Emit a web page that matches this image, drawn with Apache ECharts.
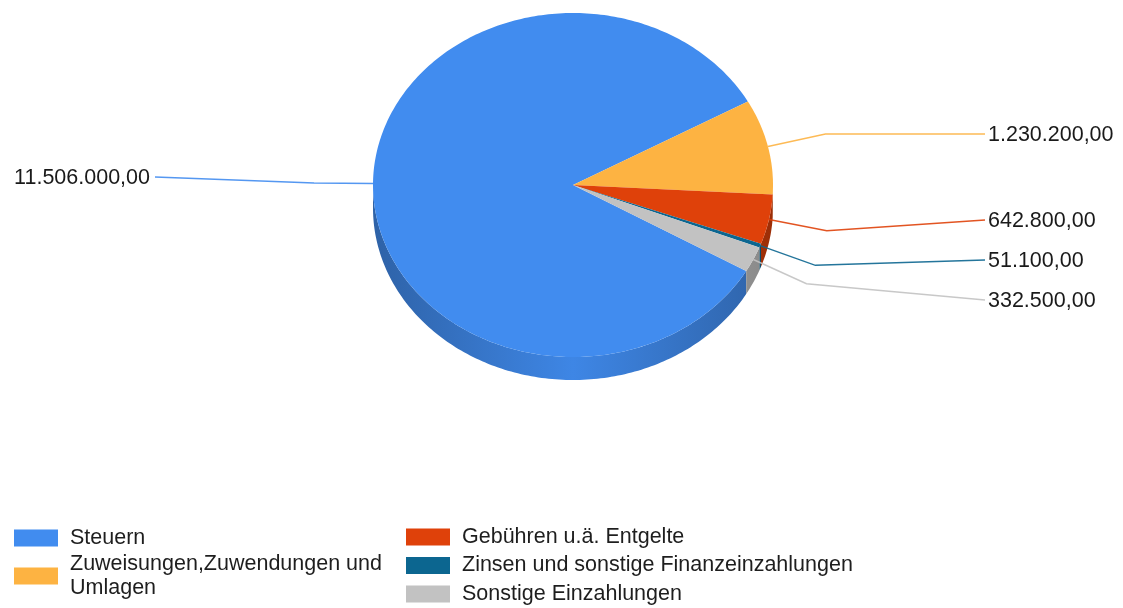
<!DOCTYPE html>
<html>
<head>
<meta charset="utf-8">
<script src="https://cdn.jsdelivr.net/npm/echarts@6/dist/echarts.min.js"></script>
<style>
html, body { margin: 0; padding: 0; background: #fff; }
#main { width: 1123px; height: 608px; }
</style>
</head>
<body>
<div id="main"></div>
<script>
var names = ['Steuern', 'Zuweisungen,Zuwendungen und Umlagen', 'Gebühren u.ä. Entgelte', 'Zinsen und sonstige Finanzeinzahlungen', 'Sonstige Einzahlungen'];
var values = [11506000, 1230200, 642800, 51100, 332500];
var colors = ['#418cef', '#fdb342', '#df410a', '#0c6690', '#c2c2c2'];

// geometrie der "3d"-torte
var cx = 573, cy = 185, rx = 200, ry = 172, depth = 23;
var startAngle = 330; // mathematisch, im uhrzeigersinn
var FONT_FAMILY = '"Liberation Sans", Arial, sans-serif';
var FONT = '21.5px ' + FONT_FAMILY;
var RAD = Math.PI / 180;

function shade(hex, f) {
	var n = parseInt(hex.slice(1), 16);
	var r = Math.round(((n >> 16) & 255) * f),
		g = Math.round(((n >> 8) & 255) * f),
		b = Math.round((n & 255) * f);
	return 'rgb(' + r + ',' + g + ',' + b + ')';
}

function pt(t, ex, ey) {
	return [cx + (rx + (ex || 0)) * Math.cos(t * RAD), cy - (ry + (ey || 0)) * Math.sin(t * RAD)];
}

function fmt(v) {
	var s = v.toFixed(2).split('.');
	return s[0].replace(/\B(?=(\d{3})+(?!\d))/g, '.') + ',' + s[1];
}

// winkel + beschriftung vorab berechnen
var total = values.reduce(function(a, b) { return a + b; }, 0);
var slices = [];
var acc = startAngle;
values.forEach(function(v, i) {
	var span = v / total * 360;
	var mid = acc - span / 2;
	var right = Math.cos(mid * RAD) >= 0;
	slices.push({
		a0: acc,
		a1: acc - span,
		mid: mid,
		right: right,
		anchor: pt(mid),
		elbow: pt(mid, 59, 56)
	});
	acc -= span;
});

// labels einer seite auseinanderschieben (cluster um mittelwert)
function spread(list, gap) {
	list.sort(function(a, b) { return a.elbow[1] - b.elbow[1]; });
	var groups = [];
	list.forEach(function(s) {
		var g = { items: [s] };
		groups.push(g);
		place(g);
		while(groups.length > 1) {
			var prev = groups[groups.length - 2], cur = groups[groups.length - 1];
			if(cur.top < prev.top + prev.items.length * gap) {
				prev.items = prev.items.concat(cur.items);
				groups.pop();
				place(prev);
			} else break;
		}
	});
	function place(g) {
		var m = 0;
		g.items.forEach(function(s) { m += s.elbow[1]; });
		m /= g.items.length;
		g.top = m - (g.items.length - 1) * gap / 2;
	}
	groups.forEach(function(g) {
		g.items.forEach(function(s, k) { s.labelY = g.top + k * gap; });
	});
}
spread(slices.filter(function(s) { return s.right; }), 40);
spread(slices.filter(function(s) { return !s.right; }), 40);

function arc(a, b) {
	var pts = [], n = Math.max(2, Math.ceil(Math.abs(a - b)));
	for(var k = 0; k <= n; k++) pts.push(pt(a + (b - a) * k / n));
	return pts;
}

function renderSlice(params, api) {
	var i = params.seriesIndex, s = slices[i], col = colors[i];
	var children = [];

	// sichtbare seitenwand (vorderer halbkreis)
	[-360, 0, 360].forEach(function(k) {
		var lo = Math.max(s.a1, 180 + k), hi = Math.min(s.a0, 360 + k);
		if(hi <= lo) return;
		var top = arc(lo, hi);
		var bottom = top.slice().reverse().map(function(p) { return [p[0], p[1] + depth]; });
		children.push({
			type: 'polygon',
			z2: 1,
			shape: { points: top.concat(bottom) },
			style: {
				fill: new echarts.graphic.LinearGradient(cx - rx, 0, cx + rx, 0, [
					{ offset: 0, color: shade(col, 0.7) },
					{ offset: 0.5, color: shade(col, 0.96) },
					{ offset: 1, color: shade(col, 0.7) }
				], true),
				stroke: null
			}
		});
	});

	// oberseite
	children.push({
		type: 'polygon',
		z2: 2,
		shape: { points: [[cx, cy]].concat(arc(s.a0, s.a1)) },
		style: { fill: col, stroke: null }
	});

	// beschriftungslinie + text
	var endX = s.right ? 985 : 155;
	var ly = s.right ? s.labelY : s.labelY - 6;
	children.push({
		type: 'polyline',
		z2: 3,
		shape: { points: [s.anchor, s.elbow, [endX, ly]] },
		style: { stroke: col, lineWidth: 1.5, fill: null, opacity: 0.9 }
	});
	children.push({
		type: 'text',
		z2: 4,
		style: {
			text: fmt(api.value(0)),
			x: s.right ? endX + 3 : endX - 5,
			y: ly + 1,
			align: s.right ? 'left' : 'right',
			verticalAlign: 'middle',
			font: FONT,
			fill: '#1a1a1a'
		}
	});
	return { type: 'group', children: children };
}

var series = names.map(function(n, i) {
	return {
		type: 'custom',
		name: n,
		coordinateSystem: 'none',
		itemStyle: { color: colors[i] },
		silent: true,
		renderItem: renderSlice,
		data: [values[i]]
	};
});

var legendBase = {
	orient: 'vertical',
	padding: 0,
	itemWidth: 44,
	itemHeight: 17,
	icon: 'rect',
	selectedMode: false,
	textStyle: {
		fontSize: 21.5,
		fontFamily: FONT_FAMILY,
		color: '#1e1e1e',
		lineHeight: 17,
		padding: [0, 0, 0, 7]
	}
};

var chart = echarts.init(document.getElementById('main'), null, { renderer: 'canvas' });
chart.setOption({
	animation: false,
	backgroundColor: '#fff',
	legend: [
		echarts.util.merge({ left: 14, top: 527, data: [names[0]] }, legendBase, false),
		echarts.util.merge({
			left: 14, top: 552, data: [names[1]],
			formatter: function(n) { return n.replace(' und ', ' und\n'); },
			textStyle: { lineHeight: 24 }
		}, legendBase, false),
		echarts.util.merge({ left: 406, top: 526, height: 90, itemGap: 6.5, data: names.slice(2) }, legendBase, false)
	],
	series: series
});
</script>
</body>
</html>
